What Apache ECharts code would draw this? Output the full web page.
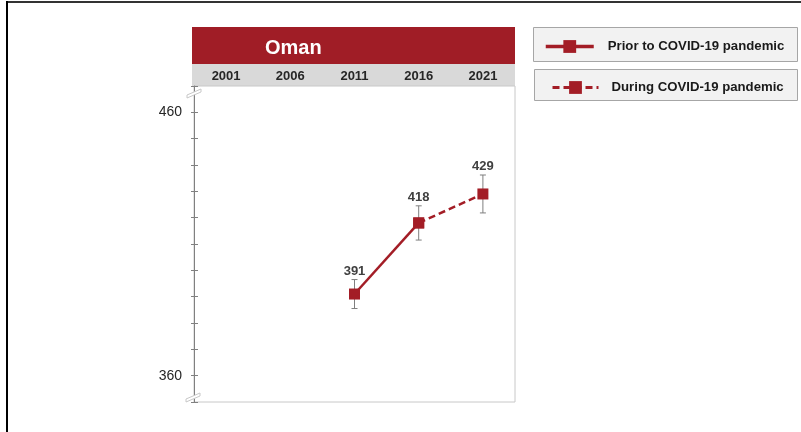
<!DOCTYPE html>
<html>
<head>
<meta charset="utf-8">
<script src="https://cdn.jsdelivr.net/npm/echarts@6/dist/echarts.min.js"></script>
<style>
  html, body { margin: 0; padding: 0; background: #fff; }
  #chart { width: 801px; height: 432px; }
</style>
</head>
<body>
<div id="chart"></div>
<script>
// data
var years = ['2001', '2006', '2011', '2016', '2021'];
var priorValues = [null, null, 391, 418, null];
var duringValues = [null, null, null, 418, 429];
var scores = [null, null, 391, 418, 429];
var errorMargin = [null, null, 5.5, 6.5, 7.2];
var yTickLabels = [360, 460];

var red = '#a31d26';
var font = 'Liberation Sans, Arial, sans-serif';

var chart = echarts.init(document.getElementById('chart'));

var errorData = [];
scores.forEach(function (v, i) {
  if (v != null) errorData.push([i, v - errorMargin[i], v + errorMargin[i], v]);
});

function breakMark(x, y) {
  return {
    type: 'polygon',
    shape: { points: [[x - 4, y + 3], [x + 10, y - 3], [x + 10, y], [x - 4, y + 6]] },
    style: { fill: '#fff', stroke: '#c8c8c8', lineWidth: 1 },
    z: 100
  };
}

var option = {
  backgroundColor: '#fff',
  textStyle: { fontFamily: font },
  animation: false,
  title: {
    text: 'Oman',
    left: 260,
    top: 33,
    textStyle: { color: '#fff', fontSize: 20, fontWeight: 'bold', fontFamily: font }
  },
  graphic: [
    { type: 'rect', shape: { x: 192, y: 27, width: 323, height: 37 }, style: { fill: '#a01d26' }, z: -1 },
    { type: 'rect', shape: { x: 192, y: 64, width: 323, height: 22 }, style: { fill: '#d9d9d9' }, z: -1 },
    { type: 'rect', shape: { x: 533.5, y: 27.5, width: 264, height: 34 }, style: { fill: '#f2f2f2', stroke: '#a6a6a6', lineWidth: 1 }, z: -1 },
    { type: 'rect', shape: { x: 534.5, y: 69.5, width: 263, height: 31 }, style: { fill: '#f2f2f2', stroke: '#a6a6a6', lineWidth: 1 }, z: -1 },
    { type: 'line', shape: { x1: 7, y1: 2, x2: 801, y2: 2 }, style: { stroke: '#333', lineWidth: 2 } },
    { type: 'line', shape: { x1: 7, y1: 1, x2: 7, y2: 432 }, style: { stroke: '#000', lineWidth: 2 } },
    breakMark(191, 92),
    breakMark(190, 396)
  ],
  legend: [
    {
      data: ['Prior to COVID-19 pandemic'],
      left: 539,
      top: 35,
      itemWidth: 48,
      itemHeight: 16,
      itemGap: 0,
      lineStyle: { width: 3.5 },
      textStyle: { fontSize: 13.2, fontWeight: 'bold', color: '#1a1a1a', fontFamily: font, padding: [0, 0, 0, 9] }
    },
    {
      data: ['During COVID-19 pandemic'],
      left: 546,
      top: 76,
      itemWidth: 46,
      itemHeight: 16,
      itemGap: 0,
      lineStyle: { width: 3 },
      textStyle: { fontSize: 13.2, fontWeight: 'bold', color: '#1a1a1a', fontFamily: font, padding: [0, 0, 0, 8] }
    }
  ],
  grid: {
    left: 194,
    right: 286,
    top: 86,
    bottom: 30,
    show: true,
    borderColor: '#c8c8c8',
    borderWidth: 1,
    backgroundColor: 'transparent'
  },
  xAxis: {
    type: 'category',
    data: years,
    position: 'top',
    boundaryGap: true,
    axisLine: { show: false },
    axisTick: { show: false },
    axisLabel: { margin: 3, fontSize: 13, fontWeight: 'bold', color: '#262626', fontFamily: font },
    splitLine: { show: false }
  },
  yAxis: [
    {
      type: 'value',
      min: 350,
      max: 470,
      interval: 10,
      axisLine: { show: true, lineStyle: { color: '#808080', width: 1 } },
      axisTick: { show: true, length: 3, lineStyle: { color: '#808080' } },
      axisLabel: {
        fontSize: 14,
        color: '#262626',
        margin: 12,
        fontFamily: font,
        formatter: function (v) { return yTickLabels.indexOf(v) >= 0 ? String(v) : ''; }
      },
      splitLine: { show: false }
    },
    {
      type: 'value',
      min: 350,
      max: 470,
      interval: 10,
      position: 'left',
      axisLine: { show: false },
      axisTick: { show: true, inside: true, length: 4, lineStyle: { color: '#808080' } },
      axisLabel: { show: false },
      splitLine: { show: false }
    }
  ],
  series: [
    {
      name: 'Prior to COVID-19 pandemic',
      type: 'line',
      data: priorValues,
      symbol: 'rect',
      symbolSize: 11,
      connectNulls: false,
      itemStyle: { color: red },
      lineStyle: { color: red, width: 2.5 },
      z: 5
    },
    {
      name: 'During COVID-19 pandemic',
      type: 'line',
      data: duringValues,
      symbol: 'rect',
      symbolSize: 11,
      connectNulls: false,
      itemStyle: { color: red },
      lineStyle: { color: red, width: 2.5, type: [7, 4] },
      z: 5
    },
    {
      type: 'custom',
      data: errorData,
      z: 3,
      renderItem: function (params, api) {
        var lo = api.coord([api.value(0), api.value(1)]);
        var hi = api.coord([api.value(0), api.value(2)]);
        var cap = 3;
        var st = { stroke: '#7f7f7f', lineWidth: 1 };
        return {
          type: 'group',
          children: [
            { type: 'line', shape: { x1: hi[0], y1: hi[1], x2: lo[0], y2: lo[1] }, style: st },
            { type: 'line', shape: { x1: hi[0] - cap, y1: hi[1], x2: hi[0] + cap, y2: hi[1] }, style: st },
            { type: 'line', shape: { x1: lo[0] - cap, y1: lo[1], x2: lo[0] + cap, y2: lo[1] }, style: st },
            {
              type: 'text',
              x: hi[0],
              y: hi[1] - 2,
              style: {
                text: String(api.value(3)),
                align: 'center',
                verticalAlign: 'bottom',
                fill: '#404040',
                font: 'bold 13px ' + font
              }
            }
          ]
        };
      }
    }
  ]
};

chart.setOption(option);
</script>
</body>
</html>
